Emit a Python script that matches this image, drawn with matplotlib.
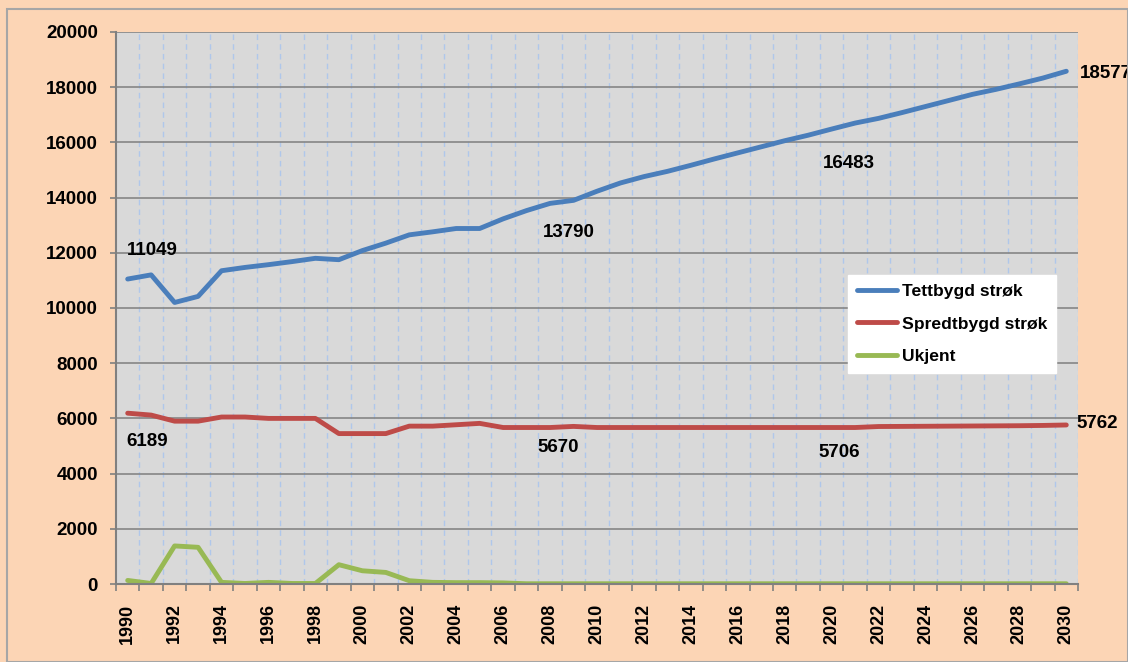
import numpy as np
import matplotlib.pyplot as plt
from matplotlib.patches import Rectangle

years = list(range(1990, 2031))

tettbygd = [11049, 11200, 10200, 10420, 11350, 11470, 11570, 11680, 11800, 11750,
            12080, 12350, 12650, 12760, 12880, 12880, 13230, 13530, 13790, 13900,
            14230, 14530, 14760, 14950, 15170, 15400, 15620, 15840, 16060, 16260,
            16483, 16700, 16870, 17080, 17300, 17520, 17740, 17920, 18120, 18330,
            18577]
spredtbygd = [6189, 6120, 5900, 5900, 6050, 6050, 6000, 6000, 6000, 5450,
              5450, 5450, 5720, 5720, 5770, 5820, 5670, 5670, 5670, 5710,
              5670, 5670, 5670, 5670, 5670, 5670, 5670, 5670, 5670, 5670,
              5670, 5670, 5706, 5710, 5715, 5720, 5725, 5730, 5735, 5745,
              5762]
ukjent = [130, 20, 1380, 1330, 60, 20, 60, 20, 20, 700,
          480, 420, 120, 60, 50, 50, 40, 10, 10, 10,
          10, 10, 10, 10, 10, 10, 10, 10, 10, 10,
          10, 10, 10, 10, 10, 10, 10, 10, 10, 10,
          10]

# (year index, text, x offset in years, y position)
labels = [(0, "11049", -0.05, 12100),
          (0, "6189", -0.05, 5180),
          (18, "13790", -0.32, 12720),
          (18, "5670", -0.53, 4960),
          (30, "16483", -0.38, 15250),
          (30, "5706", -0.55, 4750),
          (40, "18577", 0.57, 18510),
          (40, "5762", 0.44, 5830)]

fam = ['Liberation Sans', 'DejaVu Sans']
plt.rcParams['font.family'] = fam
bold = dict(family=fam, weight='bold')

fig = plt.figure(figsize=(11.28, 6.62), dpi=100, facecolor='#FCD5B5')
fig.patches.append(Rectangle((0.006, 0.0), 0.994, 0.986, transform=fig.transFigure,
                             fill=False, edgecolor='#A6A6A6', linewidth=1.5))
ax = fig.add_axes([0.1028, 0.1178, 0.8529, 0.8339])
ax.set_facecolor('#D9D9D9')

ax.plot(years, tettbygd, color='#4A7EBB', lw=3.5, label='Tettbygd strøk', solid_capstyle='round')
ax.plot(years, spredtbygd, color='#BE4B48', lw=3.5, label='Spredtbygd strøk', solid_capstyle='round')
ax.plot(years, ukjent, color='#98B954', lw=3.5, label='Ukjent', solid_capstyle='round')

ax.set_xlim(1989.5, 2030.5)
ax.set_ylim(0, 20000)
ax.set_yticks(np.arange(0, 20001, 2000))
ax.yaxis.grid(True, color='#868686', lw=1.2)
ax.set_axisbelow(True)

ax.set_xticks(years[::2])
ax.set_xticklabels([str(y) for y in years[::2]], rotation=90, fontsize=13, **bold)
ax.tick_params(axis='x', which='major', length=0, pad=14)
bounds = np.arange(1989.5, 2031, 1.0)
ax.set_xticks(bounds, minor=True)
ax.tick_params(axis='x', which='minor', length=5, color='#808080', width=1.2)
for b in bounds[1:]:
    ax.axvline(b, color='#AFC7EB', lw=1, ls=(0, (4, 3)), zorder=0.5)

ax.set_yticklabels([str(v) for v in range(0, 20001, 2000)], fontsize=13.5, **bold)
ax.tick_params(axis='y', length=4.3, color='#808080', width=1.2, pad=8.6)

for s in ['top', 'right']:
    ax.spines[s].set_visible(False)
for s in ['left', 'bottom']:
    ax.spines[s].set_color('#808080')
    ax.spines[s].set_linewidth(1.5)

for i, txt, dx, yy in labels:
    ax.text(years[i] + dx, yy, txt, fontsize=13.5, ha='left', va='center',
            clip_on=False, **bold)

leg = ax.legend(loc='upper left', bbox_to_anchor=(0.761, 0.56), borderaxespad=0,
                prop=dict(family=fam, weight='bold', size=12.6),
                frameon=True, fancybox=False, framealpha=1, edgecolor='white',
                handlelength=2.3, labelspacing=1.0, borderpad=0.5, handletextpad=0.3)

fig.savefig('out.png', dpi=100, facecolor=fig.get_facecolor())
